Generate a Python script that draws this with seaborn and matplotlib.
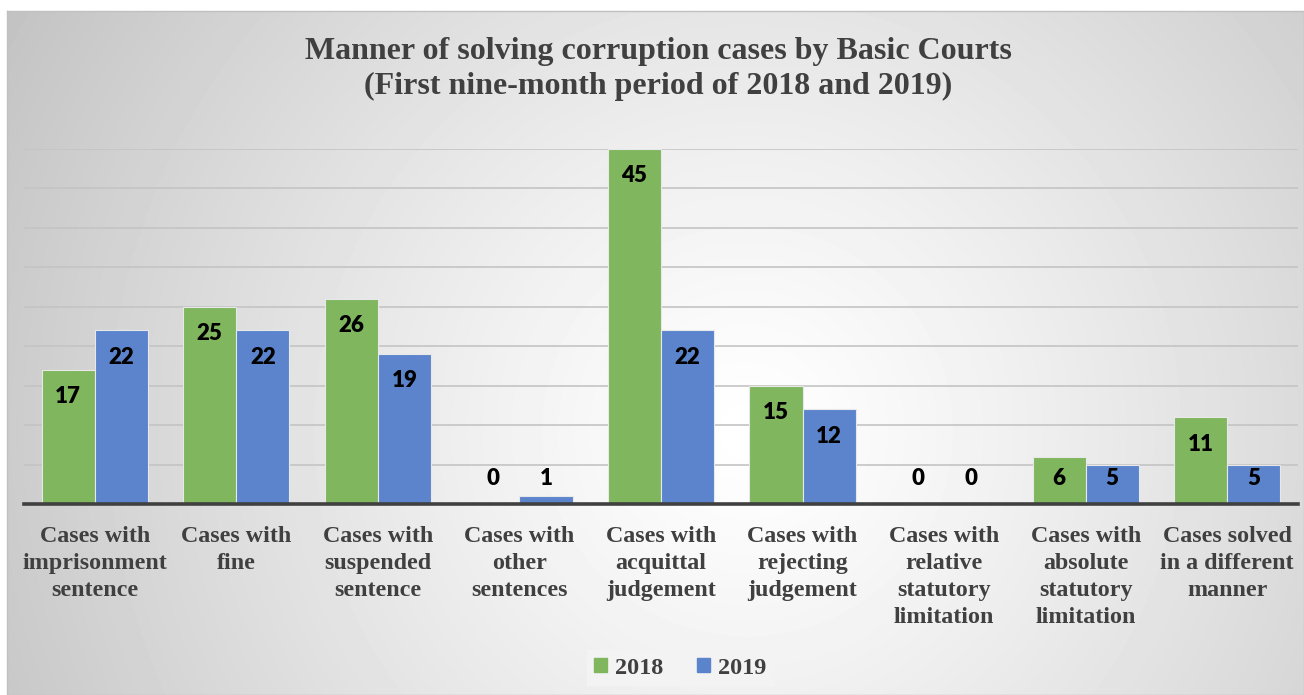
import matplotlib
matplotlib.use("Agg")
import matplotlib.pyplot as plt
import seaborn as sns
import numpy as np
import pandas as pd

# 데이터
categories = [
    "Cases with\nimprisonment\nsentence",
    "Cases with\nfine",
    "Cases with\nsuspended\nsentence",
    "Cases with\nother\nsentences",
    "Cases with\nacquittal\njudgement",
    "Cases with\nrejecting\njudgement",
    "Cases with\nrelative\nstatutory\nlimitation",
    "Cases with\nabsolute\nstatutory\nlimitation",
    "Cases solved\nin a different\nmanner",
]
vals_2018 = [17, 25, 26, 0, 45, 15, 0, 6, 11]
vals_2019 = [22, 22, 19, 1, 22, 12, 0, 5, 5]
years = ["2018", "2019"]

df = pd.DataFrame({
    "cat": categories * 2,
    "year": [years[0]] * len(categories) + [years[1]] * len(categories),
    "value": vals_2018 + vals_2019,
})

sns.set_theme(style="white")
plt.rcParams["font.family"] = ["Liberation Serif", "DejaVu Serif"]

fig = plt.figure(figsize=(13.04, 6.95), dpi=100)

# 배경 (방사형 그라데이션)
bg = fig.add_axes([7 / 1304, 0, 1 - 7 / 1304, 684 / 695], zorder=-10)
h, w = 684, 1297
yy, xx = np.mgrid[0:h, 0:w]
d = np.sqrt((xx - 740) ** 2 + (yy - 420) ** 2) / 830
grad = 1 - 0.23 * d ** 1.2
bg.imshow(grad, cmap="gray", vmin=0, vmax=1, aspect="auto", interpolation="bilinear")
bg.set_xticks([]); bg.set_yticks([])
for s in bg.spines.values():
    s.set_color("#c0c0c0")
    s.set_linewidth(1)

ax = fig.add_axes([24 / 1304, 191 / 695, 1274 / 1304, 355 / 695])
ax.patch.set_alpha(0)

colors = {"2018": "#7FB65E", "2019": "#5B84CC"}
sns.barplot(data=df, x="cat", y="value", hue="year", palette=colors,
            width=0.75, legend=False, ax=ax, edgecolor="#e8e8e8",
            linewidth=0.8, saturation=1, zorder=3)

ax.set_ylim(0, 45)
ax.set_yticks(range(0, 50, 5))
ax.set_yticklabels([])
ax.yaxis.grid(True, color="#c4c4c4", linewidth=1.2, zorder=0)
ax.set_axisbelow(True)
ax.set_xlabel("")
ax.set_ylabel("")
for side in ["top", "left", "right"]:
    ax.spines[side].set_visible(False)
ax.spines["bottom"].set_color("#404040")
ax.spines["bottom"].set_linewidth(2.6)
ax.spines["bottom"].set_zorder(5)
ax.tick_params(axis="x", length=0, pad=15.5)
ax.tick_params(axis="y", length=0)
for lab in ax.get_xticklabels():
    lab.set_fontsize(17.3)
    lab.set_fontweight("bold")
    lab.set_color("#404040")
    lab.set_linespacing(1.38)

# 값 라벨
for cont, vals in zip(ax.containers, [vals_2018, vals_2019]):
    for bar, v in zip(cont, vals):
        ypos = max(v - 3.4, 3.2)
        ax.text(bar.get_x() + bar.get_width() / 2, ypos, str(v),
                ha="center", va="center", fontsize=16, fontweight="heavy",
                color="black", family=["Lato", "DejaVu Sans"], zorder=6)

fig.text(658 / 1304, 1 - 69 / 695,
         "Manner of solving corruption cases by Basic Courts\n(First nine-month period of 2018 and 2019)",
         ha="center", va="center", fontsize=23, fontweight="bold",
         color="#404040", linespacing=1.28)

handles = [plt.Rectangle((0, 0), 1, 1, color=colors[y]) for y in years]
leg = ax.legend(handles, years, loc="center", bbox_to_anchor=(680 / 1304, 1 - 668 / 695),
                bbox_transform=fig.transFigure, ncol=2, frameon=True,
                facecolor="#f3f3f3", edgecolor="none", framealpha=1,
                handlelength=0.55, handleheight=0.55, handletextpad=0.3,
                columnspacing=1.4, borderpad=0.3, fancybox=False,
                prop={"family": "Liberation Serif", "weight": "bold", "size": 17.5})
for t in leg.get_texts():
    t.set_color("#404040")

fig.savefig("out.png", dpi=100)
